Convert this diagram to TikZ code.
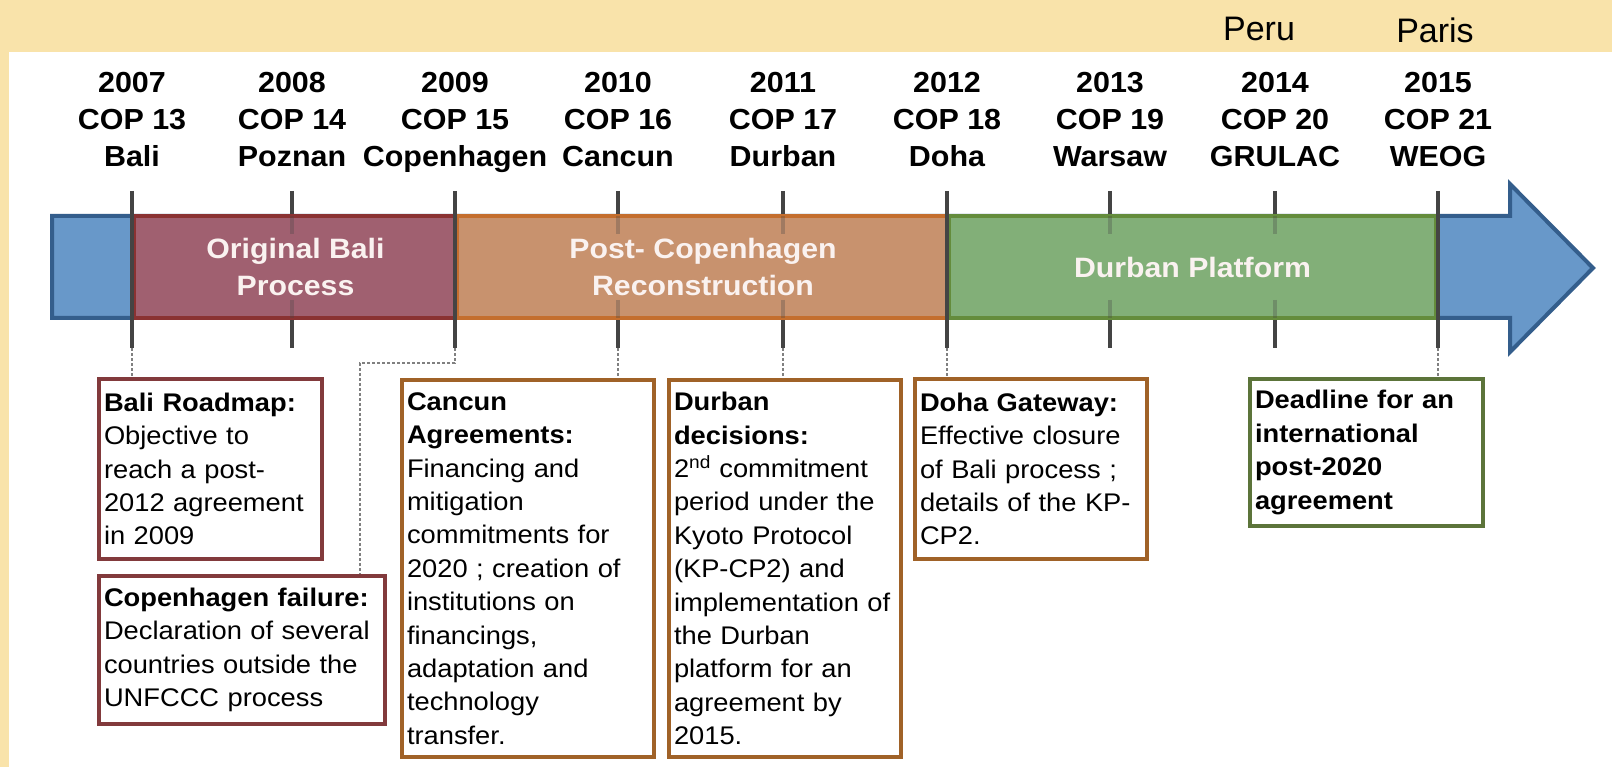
\documentclass[tikz,border=0pt]{standalone}
\usepackage{fontspec}
\setmainfont{Liberation Sans}
\newfontfamily\notefont[FakeStretch=1.07,WordSpace=0.6]{Liberation Sans}
\newfontfamily\yearfont[FakeStretch=1.05]{Liberation Sans}
\newfontfamily\phasefont[FakeStretch=1.08]{Liberation Sans}
\usepackage{tikz}
\usetikzlibrary{positioning,calc}
\definecolor{paper}{RGB}{249,227,170}
\definecolor{axisblue}{RGB}{104,152,201}
\definecolor{axisedge}{RGB}{52,94,140}
\definecolor{balifill}{RGB}{160,96,112}
\definecolor{baliedge}{RGB}{138,50,50}
\definecolor{copfill}{RGB}{200,146,110}
\definecolor{copedge}{RGB}{196,110,46}
\definecolor{durfill}{RGB}{130,175,120}
\definecolor{duredge}{RGB}{100,140,60}
\definecolor{boxred}{RGB}{130,58,60}
\definecolor{boxbrown}{RGB}{160,98,40}
\definecolor{boxgreen}{RGB}{92,116,58}
\definecolor{tickgray}{RGB}{68,68,68}

\begin{document}
\begin{tikzpicture}[x=1pt,y=-1pt,
  year/.style={anchor=north,inner sep=0pt,align=center,font=\yearfont\fontsize{29}{37}\selectfont\bfseries},
  host/.style={inner sep=0pt,font=\fontsize{34}{40}\selectfont},
  phase/.style={rectangle,draw,line width=4pt,anchor=west,minimum height=102pt,align=center,text={rgb,255:red,250;green,242;blue,240},font=\phasefont\fontsize{28}{37}\selectfont\bfseries},
  note/.style={rectangle,draw,line width=4pt,fill=white,anchor=north west,align=left,inner xsep=5pt,inner ysep=8pt,font=\notefont\fontsize{25.5}{33.4}\selectfont},
  tickline/.style={line width=4.5pt,tickgray},
  conn/.style={densely dashed,line width=1.3pt,gray}
]
\useasboundingbox (0,0) rectangle (1612,767);
\fill[paper] (0,0) rectangle (1612,767);
\fill[white] (9,52) rectangle (1612,767);

% main axis arrow
\draw[fill=axisblue,draw=axisedge,line width=4pt,line join=miter]
  (52,216) -- (1510,216) -- (1510,184) -- (1593,268) -- (1510,352) -- (1510,318) -- (52,318) -- cycle;

% ticks of the years inside a phase
\draw[tickline] (292,191) -- (292,348);
\draw[tickline] (618,191) -- (618,348);
\draw[tickline] (783,191) -- (783,348);
\draw[tickline] (1110,191) -- (1110,348);
\draw[tickline] (1275,191) -- (1275,348);

% phases
\node[phase,draw=baliedge,fill=balifill,minimum width=323pt] (bali) at (132,267) {Original Bali\\Process};
\node[phase,draw=copedge,fill=copfill,minimum width=492pt] (post) at (455,267) {Post- Copenhagen\\Reconstruction};
\node[phase,draw=duredge,fill=durfill,minimum width=487pt] (platform) at (947,267) {Durban Platform};

% faint stubs where the ticks enter the bar
\foreach \x in {292,618,783,1110,1275}{
  \draw[tickline,opacity=0.3] (\x,216) -- (\x,234);
  \draw[tickline,opacity=0.3] (\x,300) -- (\x,318);
}

% ticks on the phase borders
\draw[tickline] (132,191) -- (132,348);
\draw[tickline] (455,191) -- (455,348);
\draw[tickline] (947,191) -- (947,348);
\draw[tickline] (1438,191) -- (1438,348);

\coordinate (k07) at (132,348);
\coordinate (k09) at (455,348);
\coordinate (k10) at (618,348);
\coordinate (k11) at (783,348);
\coordinate (k12) at (947,348);
\coordinate (k15) at (1438,348);

% conferences
\node[year] (cop13) at (132,72) {2007\\COP 13\\Bali};
\node[year] (cop14) at (292,72) {2008\\COP 14\\Poznan};
\node[year] (cop15) at (455,72) {2009\\COP 15\\Copenhagen};
\node[year] (cop16) at (618,72) {2010\\COP 16\\Cancun};
\node[year] (cop17) at (783,72) {2011\\COP 17\\Durban};
\node[year] (cop18) at (947,72) {2012\\COP 18\\Doha};
\node[year] (cop19) at (1110,72) {2013\\COP 19\\Warsaw};
\node[year] (cop20) at (1275,72) {2014\\COP 20\\GRULAC};
\node[year] (cop21) at (1438,72) {2015\\COP 21\\WEOG};
\node[host] (peru) at (1259,29) {Peru};
\node[host] (paris) at (1435,30) {Paris};

% outcomes
\node[note,draw=boxred,text width=213pt,minimum height=180pt] (roadmap) at (97,377)
  {\textbf{Bali Roadmap:}\\Objective to\\reach a post-\\2012 agreement\\in 2009};
\node[note,draw=boxred,text width=276pt,minimum height=148pt] (failure) at (97,574)
  {\textbf{Copenhagen failure:}\\Declaration of several\\countries outside the\\UNFCCC process};
\node[note,draw=boxbrown,text width=242pt,minimum height=377pt] (cancun) at (400,378)
  {\textbf{Cancun}\\\textbf{Agreements:}\\Financing and\\mitigation\\commitments for\\2020 ; creation of\\institutions on\\financings,\\adaptation and\\technology\\transfer.};
\node[note,draw=boxbrown,text width=222pt,minimum height=377pt] (decisions) at (667,378)
  {\textbf{Durban}\\\textbf{decisions:}\\2\textsuperscript{nd} commitment\\period under the\\Kyoto Protocol\\(KP-CP2) and\\implementation of\\the Durban\\platform for an\\agreement by\\2015.};
\node[note,draw=boxbrown,text width=222pt,minimum height=180pt] (gateway) at (913,377)
  {\textbf{Doha Gateway:}\\Effective closure\\of Bali process ;\\details of the KP-\\CP2.};
\node[note,draw=boxgreen,text width=223pt,minimum height=147pt,font=\notefont\fontsize{25.5}{33.4}\selectfont\bfseries] (deadline) at (1248,377)
  {Deadline for an\\international\\post-2020\\agreement};

\coordinate (bend) at (360,363);
\draw[conn] (k07) -- (k07 |- roadmap.north);
\draw[conn] (k09) |- (bend) -- (bend |- failure.north);
\draw[conn] (k10) -- (k10 |- cancun.north);
\draw[conn] (k11) -- (k11 |- decisions.north);
\draw[conn] (k12) -- (k12 |- gateway.north);
\draw[conn] (k15) -- (k15 |- deadline.north);
\end{tikzpicture}
\end{document}
